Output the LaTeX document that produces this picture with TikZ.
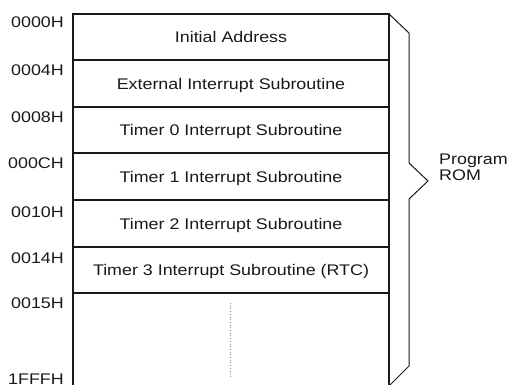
\documentclass[tikz,border=0pt]{standalone}
\usepackage{fontspec}
\setmainfont[FakeStretch=1.16]{Liberation Sans}
\begin{document}
\begin{tikzpicture}[x=1pt,y=-1pt,
  txt/.style={font=\fontsize{15.4pt}{15.5pt}\selectfont, inner sep=0pt, text=black!90},
  addr/.style={txt, anchor=base east},
  rowtxt/.style={txt, anchor=base},
  boxline/.style={line width=1.3pt, black!90},
  brace/.style={line width=1pt, black!90},
  dots/.style={line width=1pt, black!45, dash pattern=on 1pt off 1.7pt}]
\useasboundingbox (0,0) rectangle (508,384);
% box outline
\draw[boxline] (73,400) -- (73,14) -- (389,14) -- (389,400);
% dividers
\foreach \y in {60,107,153,200,247,293}
  \draw[boxline] (73,\y) -- (389,\y);
% row texts
\node[rowtxt] (r0) at (231,42.5) {Initial Address};
\node[rowtxt] (r1) at (231,89) {External Interrupt Subroutine};
\node[rowtxt] (r2) at (231,135.5) {Timer 0 Interrupt Subroutine};
\node[rowtxt] (r3) at (231,182) {Timer 1 Interrupt Subroutine};
\node[rowtxt] (r4) at (231,229) {Timer 2 Interrupt Subroutine};
\node[rowtxt] (r5) at (231,275.5) {Timer 3 Interrupt Subroutine (RTC)};
% address labels
\node[addr] (a0) at (64,27) {0000H};
\node[addr] (a1) at (64,75) {0004H};
\node[addr] (a2) at (64,122) {0008H};
\node[addr] (a3) at (64,168) {000CH};
\node[addr] (a4) at (64,217) {0010H};
\node[addr] (a5) at (64,263) {0014H};
\node[addr] (a6) at (64,308) {0015H};
\node[addr] (a7) at (64,384.5) {1FFFH};
% dotted continuation
\coordinate (d1) at (230.7,303);
\coordinate (d2) at (230.7,377);
\draw[dots] (d1) -- (d2);
% brace
\draw[brace, line join=miter] (389,14) -- (409,33) -- (409,163) -- (428,181) -- (409,199) -- (409,366) -- (389,386);
% label
\node[txt, anchor=base west, align=left] (rom) at (439,180) {Program\\ROM};
\end{tikzpicture}
\end{document}
